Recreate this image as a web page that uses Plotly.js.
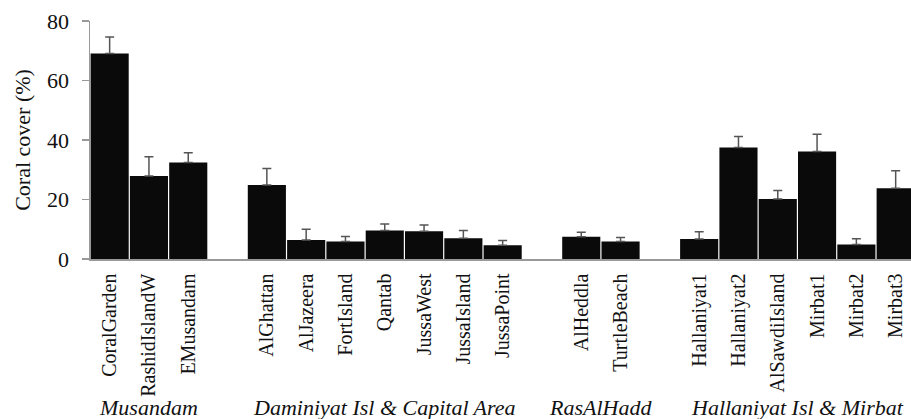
<!DOCTYPE html>
<html><head><meta charset="utf-8">
<script src="https://cdn.plot.ly/plotly-3.0.1.min.js"></script>
<style>html,body{margin:0;padding:0;background:#fff}#chart{width:911px;height:419px}</style>
</head><body><div id="chart"></div>
<script>
const groupNames = ["Musandam", "Daminiyat Isl & Capital Area", "RasAlHadd", "Hallaniyat Isl & Mirbat"];
const groupSites = [
  ["CoralGarden", "RashidIslandW", "EMusandam"],
  ["AlGhattan", "AlJazeera", "FortIsland", "Qantab", "JussaWest", "JussaIsland", "JussaPoint"],
  ["AlHeddla", "TurtleBeach"],
  ["Hallaniyat1", "Hallaniyat2", "AlSawdiIsland", "Mirbat1", "Mirbat2", "Mirbat3"]
];
const groupCover = [
  [69.1, 27.9, 32.4],
  [24.9, 6.4, 5.9, 9.6, 9.3, 7.0, 4.6],
  [7.5, 5.9],
  [6.7, 37.5, 20.2, 36.1, 4.9, 23.8]
];
const groupErr = [
  [5.5, 6.5, 3.3],
  [5.5, 3.6, 1.7, 2.2, 2.1, 2.6, 1.6],
  [1.5, 1.3],
  [2.5, 3.7, 2.8, 5.8, 1.9, 5.9]
];
const yTicks = [0, 20, 40, 60, 80];

const FONT = 'Liberation Serif';
const xs = [], ys = [], es = [], labels = [], annots = [];
let pos = 0;
groupSites.forEach((sites, g) => {
  const start = pos;
  sites.forEach((s, i) => {
    xs.push(pos); ys.push(groupCover[g][i]); es.push(groupErr[g][i]); labels.push(s);
    pos += 1;
  });
  annots.push({
    x: (start + pos - 1) / 2, xref: 'x', y: -0.565, yref: 'paper',
    text: '<i>' + groupNames[g] + '</i>', showarrow: false, xanchor: 'center', yanchor: 'top',
    font: {family: FONT, size: 22, color: '#111'}
  });
  pos += 1;
});

const trace = {
  type: 'bar', x: xs, y: ys,
  marker: {color: '#0a0a0a', line: {width: 0}},
  error_y: {type: 'data', array: es, symmetric: false, arrayminus: es.map(() => 0),
            color: '#555', thickness: 1.5, width: 4.5, visible: true},
  hoverinfo: 'skip'
};

const layout = {
  width: 911, height: 419,
  margin: {l: 90, r: 0, t: 21, b: 160, pad: 0},
  paper_bgcolor: '#fff', plot_bgcolor: '#fff',
  bargap: 0.03,
  showlegend: false,
  font: {family: FONT, color: '#111'},
  xaxis: {
    range: [-0.5, 20.39], tickvals: xs, ticktext: labels, tickangle: -90,
    showline: true, linecolor: '#999', linewidth: 1.5,
    ticks: 'outside', ticklen: 5, tickcolor: 'rgba(0,0,0,0)',
    showgrid: false, zeroline: false,
    tickfont: {size: 20, family: FONT, color: '#111'}
  },
  yaxis: {
    range: [0, 80], tickvals: yTicks,
    showline: true, linecolor: '#999', linewidth: 1.5, ticks: 'outside', ticklen: 7, tickcolor: '#999', tickwidth: 1.5,
    showgrid: false, zeroline: false, ticklabelstandoff: 8,
    tickfont: {size: 22, family: FONT, color: '#111'},
    title: {text: 'Coral cover (%)', font: {size: 22, family: FONT, color: '#111'}, standoff: 10}
  },
  annotations: annots
};

Plotly.newPlot('chart', [trace], layout, {staticPlot: true, displayModeBar: false});
</script></body></html>
